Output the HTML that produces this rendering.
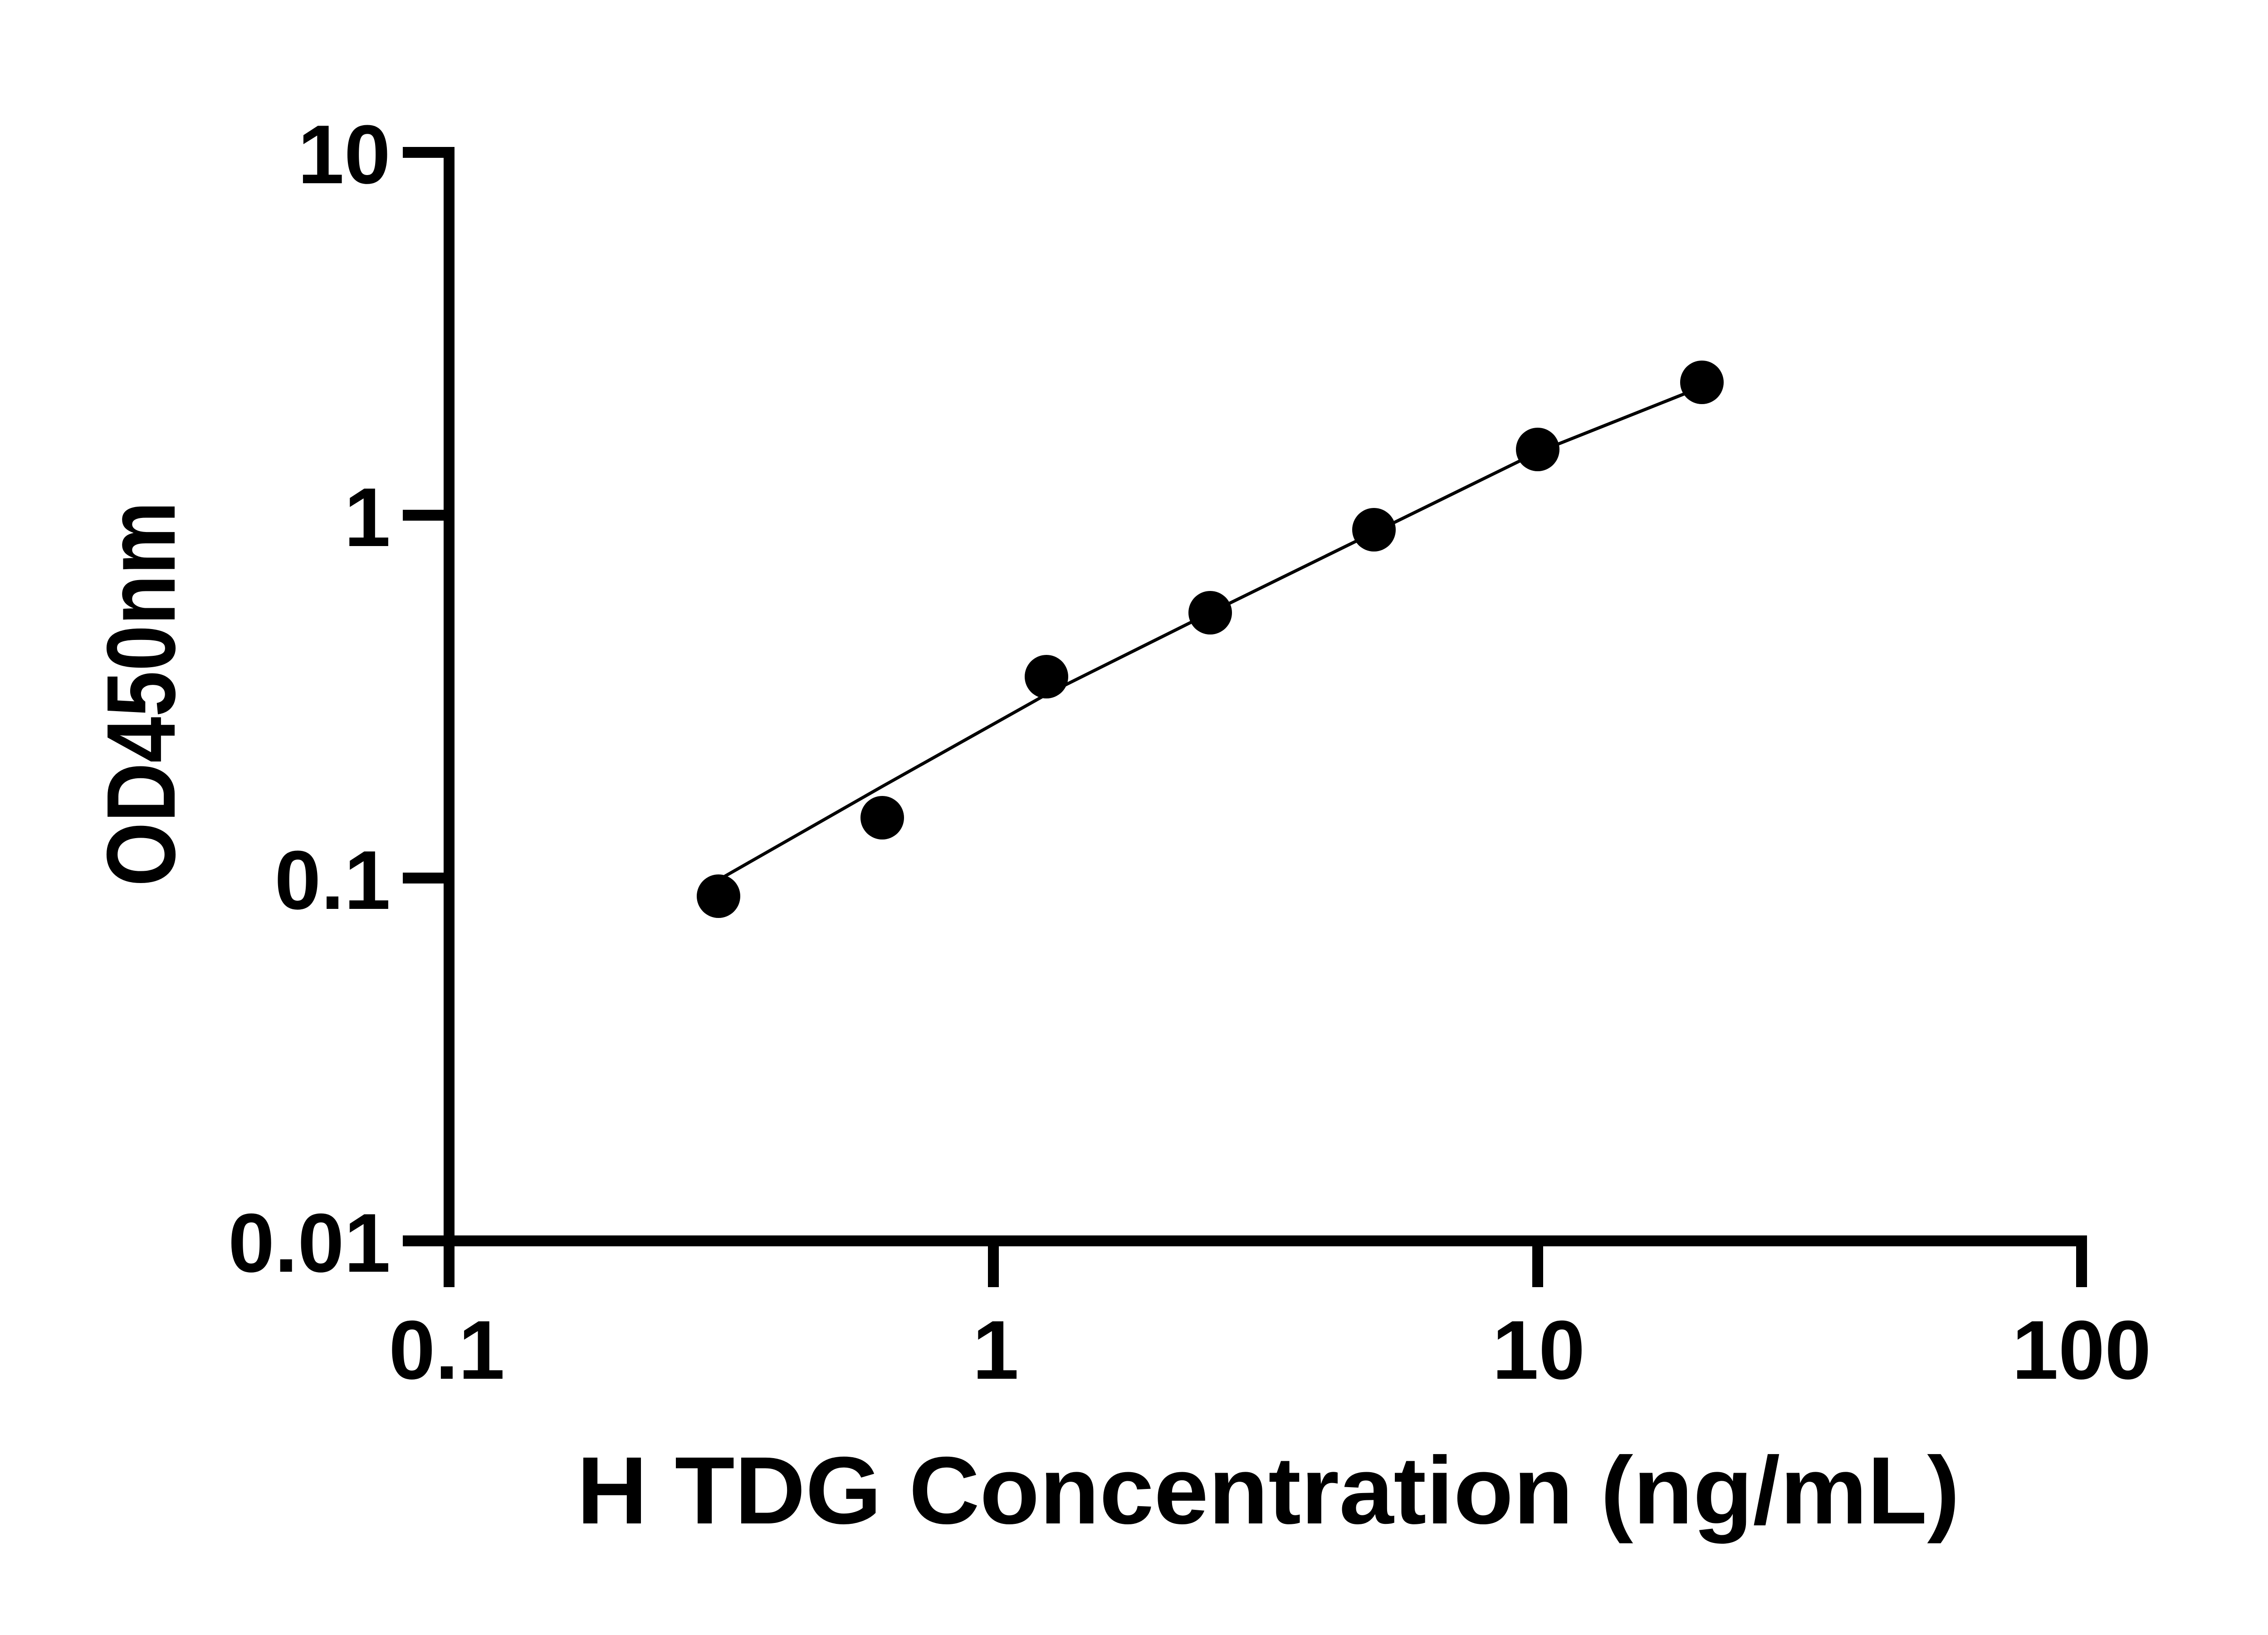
<!DOCTYPE html>
<html><head><style>html,body{margin:0;padding:0;background:#fff}</style></head><body>
<svg width="5142" height="3600" viewBox="0 0 5142 3600" xmlns="http://www.w3.org/2000/svg">
<g stroke="#000" stroke-width="24" fill="none" stroke-linecap="butt">
<line x1="990" y1="324" x2="990" y2="2748"/>
<line x1="978" y1="2736" x2="4601" y2="2736"/>
<line x1="888" y1="336" x2="1002" y2="336"/>
<line x1="888" y1="1136" x2="1002" y2="1136"/>
<line x1="888" y1="1936" x2="1002" y2="1936"/>
<line x1="888" y1="2736" x2="1002" y2="2736"/>
<line x1="990" y1="2724" x2="990" y2="2838"/>
<line x1="2190" y1="2724" x2="2190" y2="2838"/>
<line x1="3390" y1="2724" x2="3390" y2="2838"/>
<line x1="4589" y1="2724" x2="4589" y2="2838"/>
</g>
<g font-family="Liberation Sans, sans-serif" font-weight="bold" font-size="184" fill="#000">
<text x="861" y="404" text-anchor="end">10</text>
<text x="861" y="1204" text-anchor="end">1</text>
<text x="861" y="2004" text-anchor="end">0.1</text>
<text x="861" y="2804" text-anchor="end">0.01</text>
<text x="985" y="3040" text-anchor="middle">0.1</text>
<text x="2195" y="3040" text-anchor="middle">1</text>
<text x="3392" y="3040" text-anchor="middle">10</text>
<text x="4589" y="3040" text-anchor="middle">100</text>
</g>
<polyline fill="none" stroke="#000" stroke-width="7" points="1584,1940 1945,1734 2307,1531 2668,1351 3029,1174 3390,997 3752,853"/>
<g fill="#000">
<circle cx="1584" cy="1976" r="48"/>
<circle cx="1945" cy="1803" r="48"/>
<circle cx="2307" cy="1492" r="48"/>
<circle cx="2668" cy="1351" r="48"/>
<circle cx="3029" cy="1168" r="48"/>
<circle cx="3390" cy="991" r="48"/>
<circle cx="3752" cy="843" r="48"/>
</g>
<text x="2796" y="3359" text-anchor="middle" font-family="Liberation Sans, sans-serif" font-weight="bold" font-size="211" textLength="3049" lengthAdjust="spacingAndGlyphs">H TDG Concentration (ng/mL)</text>
<text transform="translate(385,1530) rotate(-90)" text-anchor="middle" font-family="Liberation Sans, sans-serif" font-weight="bold" font-size="215" textLength="849" lengthAdjust="spacingAndGlyphs">OD450nm</text>
</svg>
</body></html>
